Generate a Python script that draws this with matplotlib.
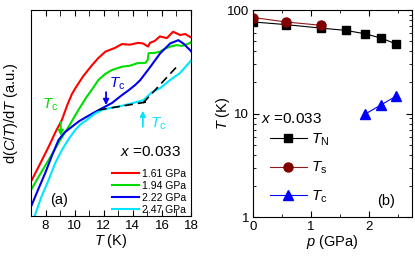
import matplotlib
matplotlib.use("Agg")
import matplotlib.pyplot as plt
from matplotlib.ticker import MultipleLocator, LogLocator, NullFormatter, FixedLocator

plt.rcParams['font.family'] = ['Liberation Sans', 'DejaVu Sans']
plt.rcParams['mathtext.fontset'] = 'custom'
plt.rcParams['mathtext.rm'] = 'Liberation Sans'
plt.rcParams['mathtext.it'] = 'Liberation Sans:italic'

# ---------- panel (a): d(C/T)/dT ----------
T_161 = [7.06, 7.6, 8.21, 8.7, 9.12, 9.5, 9.80, 10.05, 10.6, 11.2, 11.6, 12.11, 12.79, 13.25, 13.8, 14.37, 14.7,
         15.05, 15.18, 15.5, 15.86, 16.34, 16.77, 17.25, 17.6, 17.93, 18.0]
dC_161 = [0.175, 0.25, 0.336, 0.41, 0.466, 0.54, 0.590, 0.621, 0.68, 0.733, 0.765, 0.798, 0.817, 0.835, 0.832,
          0.841, 0.838, 0.823, 0.841, 0.850, 0.872, 0.864, 0.895, 0.879, 0.884, 0.870, 0.868]

T_194 = [7.0, 7.6, 8.21, 9.01, 9.58, 10.26, 10.83, 11.2, 11.63, 12.1, 12.57, 13.25, 13.8, 14.37, 14.85, 15.02,
         15.09, 15.5, 15.86, 16.2, 16.55, 17.02, 17.4, 17.93, 18.0]
dC_194 = [0.126, 0.20, 0.272, 0.369, 0.433, 0.515, 0.579, 0.615, 0.660, 0.690, 0.709, 0.725, 0.730, 0.743, 0.743,
          0.757, 0.791, 0.792, 0.798, 0.812, 0.822, 0.830, 0.826, 0.840, 0.845]

T_222 = [7.0, 7.5, 7.98, 8.45, 8.89, 9.30, 9.80, 10.3, 10.83, 11.35, 11.88, 12.57, 13.25, 13.7, 14.16, 14.51,
         15.19, 15.88, 16.57, 17.13, 17.47, 17.93, 18.0]
dC_222 = [0.045, 0.13, 0.209, 0.295, 0.369, 0.405, 0.433, 0.460, 0.482, 0.503, 0.523, 0.549, 0.587, 0.610, 0.636,
          0.660, 0.723, 0.790, 0.838, 0.854, 0.838, 0.806, 0.800]

T_247 = [7.25, 7.7, 8.21, 8.65, 9.12, 9.6, 10.03, 10.4, 10.83, 11.35, 11.88, 12.4, 12.99, 13.94, 14.73, 15.33,
         15.88, 16.56, 17.24, 17.93, 18.0]
dC_247 = [0.0, 0.09, 0.175, 0.255, 0.320, 0.375, 0.417, 0.445, 0.466, 0.495, 0.515, 0.524, 0.531, 0.547, 0.563,
          0.602, 0.621, 0.660, 0.694, 0.749, 0.755]

fit_flat_T = [11.63, 15.05]
fit_flat_y = [0.515, 0.555]
fit_steep_T = [14.71, 17.02]
fit_steep_y = [0.549, 0.725]

pressures_a = ["1.61 GPa", "1.94 GPa", "2.22 GPa", "2.47 GPa"]
colors_a = ["#ff0000", "#00dd00", "#0000ee", "#00e5ff"]

# ---------- panel (b): phase diagram ----------
p_N = [0.0, 0.57, 1.17, 1.60, 1.94, 2.22, 2.47]
T_N = [76.8, 72.4, 67.0, 63.7, 59.0, 53.5, 47.1]
p_s = [0.0, 0.57, 1.17]
T_s = [84.8, 76.8, 71.3]
p_c = [1.94, 2.22, 2.47]
T_c = [9.9, 12.2, 14.7]

fig = plt.figure(figsize=(4.15, 2.59), dpi=100)
ax1 = fig.add_axes([0.0747, 0.166, 0.3855, 0.795])
ax2 = fig.add_axes([0.610, 0.162, 0.383, 0.799])

lw = 1.5
curves = [(T_161, dC_161), (T_194, dC_194), (T_222, dC_222), (T_247, dC_247)]
for (tt, yy), c, lab in zip(curves, colors_a, pressures_a):
    ax1.plot(tt, yy, color=c, lw=lw, label=lab)
ax1.plot(fit_flat_T, fit_flat_y, color='black', ls=(0, (5, 3)), lw=1.2)
ax1.plot(fit_steep_T, fit_steep_y, color='black', ls=(0, (5, 3)), lw=1.2)

ax1.set_xlim(7, 18)
ax1.set_ylim(0, 1)
ax1.xaxis.set_major_locator(MultipleLocator(2))
ax1.xaxis.set_minor_locator(MultipleLocator(1))
ax1.set_yticks([])
ax1.tick_params(axis='x', which='both', direction='in', top=True, length=4, labelsize=9.5, pad=3)
ax1.set_xlabel("$T$ (K)", fontsize=10.5, labelpad=0)
ax1.set_ylabel("d($C$/$T$)/d$T$ (a.u.)", fontsize=10.5, labelpad=8)

# arrows and labels
ax1.annotate("", xy=(9.05, 0.375), xytext=(9.05, 0.47),
             arrowprops=dict(arrowstyle='-|>', color=colors_a[1], lw=1.3, mutation_scale=8))
ax1.text(7.75, 0.54, "$T_{\\rm c}$", color=colors_a[1], fontsize=11, va='center')
ax1.annotate("", xy=(12.16, 0.525), xytext=(12.16, 0.615),
             arrowprops=dict(arrowstyle='-|>', color=colors_a[2], lw=1.3, mutation_scale=8))
ax1.text(12.35, 0.64, "$T_{\\rm c}$", color=colors_a[2], fontsize=11, va='center')
ax1.annotate("", xy=(14.69, 0.525), xytext=(14.69, 0.42),
             arrowprops=dict(arrowstyle='-|>', color=colors_a[3], lw=1.3, mutation_scale=8))
ax1.text(15.2, 0.45, "$T_{\\rm c}$", color=colors_a[3], fontsize=11, va='center')

ax1.text(15.2, 0.31, "$x$ =0.033", fontsize=11, ha='center', va='center')
ax1.text(0.12, 0.045, "(a)", transform=ax1.transAxes, fontsize=10.5, va='bottom')
ax1.legend(loc='lower right', bbox_to_anchor=(1.03, -0.04), frameon=False,
           fontsize=7.5, handlelength=2.6, handletextpad=0.3, labelspacing=0.2)

# panel (b)
ax2.plot(p_N, T_N, color='black', lw=0.8, marker='s', ms=6, label="$T_{\\rm N}$")
ax2.plot(p_s, T_s, color='#8b1a1a', lw=0.8, marker='o', ms=6.5, mfc='#800000', mec='#800000',
         label="$T_{\\rm s}$")
ax2.plot(p_c, T_c, color='#0000ff', lw=0.8, marker='^', ms=7, label="$T_{\\rm c}$")
ax2.set_yscale('log')
ax2.set_xlim(0, 2.75)
ax2.set_ylim(1, 100)
ax2.xaxis.set_major_locator(MultipleLocator(1))
ax2.xaxis.set_minor_locator(MultipleLocator(0.5))
ax2.yaxis.set_major_locator(FixedLocator([1, 10, 100]))
ax2.yaxis.set_minor_locator(LogLocator(base=10, subs=range(2, 10)))
ax2.yaxis.set_minor_formatter(NullFormatter())
ax2.set_yticklabels(["1", "10", "100"])
ax2.tick_params(which='both', direction='in', top=True, right=True, labelsize=9.5, pad=3)
ax2.tick_params(which='major', length=4)
ax2.tick_params(which='minor', length=2.5)
ax2.set_xlabel("$p$ (GPa)", fontsize=10.5, labelpad=0)
ax2.set_ylabel("$T$ (K)", fontsize=10.5, labelpad=-4)
ax2.text(0.13, 8.9, "$x$ =0.033", fontsize=11, va='center')
ax2.text(0.78, 0.045, "(b)", transform=ax2.transAxes, fontsize=10.5, va='bottom')
ax2.legend(loc='upper left', bbox_to_anchor=(0.02, 0.48), frameon=False,
           fontsize=11, handlelength=2.4, handletextpad=0.3, labelspacing=0.8)

fig.savefig("out.png", dpi=100)
